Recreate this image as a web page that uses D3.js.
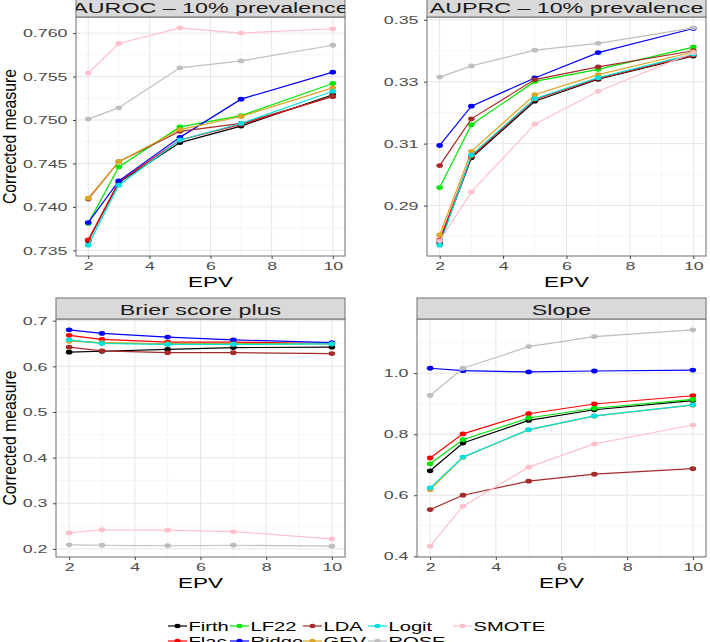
<!DOCTYPE html>
<html><head><meta charset="utf-8">
<script src="https://cdn.jsdelivr.net/npm/d3@7"></script>
<style>
body{margin:0;background:#fff;}
svg{display:block;}
text{font-family:"Liberation Sans",Arial,sans-serif;}
</style>
</head><body>
<svg id="chart" width="710" height="642"></svg>
<script>
// ---------------- DATA ----------------
const epv = [2, 3, 5, 7, 10];
const methods = ["Firth", "Flac", "LF22", "Ridge", "LDA", "GEV", "Logit", "ROSE", "SMOTE"];
const methodColors = ["#000000", "#ff0000", "#00e600", "#0000ff", "#a52a2a", "#daa520", "#00e0e0", "#bebebe", "#ffc0cb"];
const panelTitles = ["AUROC \u2013 10% prevalence", "AUPRC \u2013 10% prevalence", "Brier score plus", "Slope"];

// values per method (same order as `methods`), one entry per EPV
const auroc = [
  [0.7361, 0.7428, 0.7474, 0.7493, 0.7529],
  [0.7362, 0.7429, 0.7477, 0.7495, 0.7527],
  [0.7381, 0.7446, 0.7492, 0.7505, 0.7542],
  [0.7382, 0.7430, 0.7480, 0.7524, 0.7555],
  [0.7409, 0.7452, 0.7487, 0.7496, 0.7527],
  [0.7410, 0.7452, 0.7489, 0.7504, 0.7537],
  [0.7356, 0.7425, 0.7477, 0.7496, 0.7533],
  [0.7501, 0.7514, 0.7560, 0.7568, 0.7586],
  [0.7554, 0.7588, 0.7606, 0.7600, 0.7605]
];
const auprc = [
  [0.2780, 0.3054, 0.3237, 0.3308, 0.3383],
  [0.2789, 0.3059, 0.3243, 0.3311, 0.3386],
  [0.2958, 0.3161, 0.3301, 0.3340, 0.3412],
  [0.3094, 0.3221, 0.3312, 0.3394, 0.3472],
  [0.3029, 0.3180, 0.3307, 0.3348, 0.3400],
  [0.2805, 0.3075, 0.3258, 0.3323, 0.3396],
  [0.2772, 0.3063, 0.3245, 0.3313, 0.3389],
  [0.3315, 0.3351, 0.3402, 0.3424, 0.3474],
  [0.2786, 0.2944, 0.3163, 0.3269, 0.3394]
];
const brier = [
  [0.631, 0.633, 0.637, 0.641, 0.642],
  [0.668, 0.659, 0.653, 0.653, 0.650],
  [0.657, 0.651, 0.649, 0.650, 0.650],
  [0.680, 0.672, 0.664, 0.658, 0.652],
  [0.642, 0.634, 0.630, 0.630, 0.628],
  [0.655, 0.652, 0.649, 0.649, 0.649],
  [0.658, 0.650, 0.648, 0.648, 0.649],
  [0.209, 0.208, 0.207, 0.208, 0.206],
  [0.235, 0.242, 0.241, 0.238, 0.222]
];
const slope = [
  [0.680, 0.771, 0.845, 0.880, 0.910],
  [0.722, 0.801, 0.867, 0.899, 0.926],
  [0.703, 0.782, 0.853, 0.885, 0.914],
  [1.016, 1.008, 1.004, 1.007, 1.010],
  [0.553, 0.600, 0.646, 0.669, 0.687],
  [0.618, 0.724, 0.814, 0.859, 0.895],
  [0.624, 0.725, 0.815, 0.860, 0.896],
  [0.927, 1.016, 1.087, 1.120, 1.142],
  [0.433, 0.564, 0.692, 0.768, 0.830]
];

const xTickLabels = ["2", "4", "6", "8", "10"];
const xMinorTicks = [3, 5, 7, 9];
const aurocTickLabels = ["0.735", "0.740", "0.745", "0.750", "0.755", "0.760"];
const auprcTickLabels = ["0.29", "0.31", "0.33", "0.35"];
const brierTickLabels = ["0.2", "0.3", "0.4", "0.5", "0.6", "0.7"];
const slopeTickLabels = ["0.4", "0.6", "0.8", "1.0"];
const aurocMinor = [0.7375, 0.7425, 0.7475, 0.7525, 0.7575];
const auprcMinor = [0.28, 0.30, 0.32, 0.34];
const brierMinor = [0.25, 0.35, 0.45, 0.55, 0.65];
const slopeMinor = [0.5, 0.7, 0.9, 1.1];
const xAxisTitle = "EPV";
const yAxisTitle = "Corrected measure";

// ---------------- LAYOUT ----------------
const SX = 1.55; // horizontal stretch of the reference's text
const panels = [
  {values: auroc, ticks: aurocTickLabels, minor: aurocMinor, x0: 76,  x1: 345, y0: 17,  y1: 256, stripTop: -4,  yTitle: true},
  {values: auprc, ticks: auprcTickLabels, minor: auprcMinor, x0: 427, x1: 706, y0: 17,  y1: 256, stripTop: -4,  yTitle: false},
  {values: brier, ticks: brierTickLabels, minor: brierMinor, x0: 56,  x1: 345, y0: 319, y1: 557, stripTop: 298, yTitle: true},
  {values: slope, ticks: slopeTickLabels, minor: slopeMinor, x0: 417, x1: 706, y0: 319, y1: 557, stripTop: 298, yTitle: false}
];

const svg = d3.select("#chart");
const defs = svg.append("defs");

function stretchedText(g, x, y, str, opts) {
  const grp = g.append("g").attr("transform", `translate(${x},${y}) scale(${opts.sx || SX},1)` + (opts.rotate ? ` rotate(${opts.rotate})` : ""));
  return grp.append("text")
    .attr("text-anchor", opts.anchor || "middle")
    .attr("font-size", opts.size)
    .attr("fill", opts.fill || "#000")
    .text(str);
}

panels.forEach((p, pi) => {
  const g = svg.append("g");
  const x = d3.scaleLinear().domain([1.6, 10.4]).range([p.x0, p.x1]);
  const all = p.values.flat();
  const [lo, hi] = d3.extent(all);
  const pad = (hi - lo) * 0.05;
  const y = d3.scaleLinear().domain([lo - pad, hi + pad]).range([p.y1, p.y0]);

  g.append("rect").attr("x", p.x0).attr("y", p.y0).attr("width", p.x1 - p.x0).attr("height", p.y1 - p.y0).attr("fill", "#fff");

  const clipY = (v) => y(v) > p.y0 && y(v) < p.y1;
  g.selectAll(".ymin").data(p.minor.filter(clipY)).enter().append("line")
    .attr("x1", p.x0).attr("x2", p.x1).attr("y1", d => y(d)).attr("y2", d => y(d))
    .attr("stroke", "#f2f2f2").attr("stroke-width", 0.7);
  g.selectAll(".xmin").data(xMinorTicks).enter().append("line")
    .attr("y1", p.y0).attr("y2", p.y1).attr("x1", d => x(d)).attr("x2", d => x(d))
    .attr("stroke", "#f2f2f2").attr("stroke-width", 0.7);
  g.selectAll(".ymaj").data(p.ticks.map(Number)).enter().append("line")
    .attr("x1", p.x0).attr("x2", p.x1).attr("y1", d => y(d)).attr("y2", d => y(d))
    .attr("stroke", "#e6e6e6").attr("stroke-width", 1);
  g.selectAll(".xmaj").data(xTickLabels.map(Number)).enter().append("line")
    .attr("y1", p.y0).attr("y2", p.y1).attr("x1", d => x(d)).attr("x2", d => x(d))
    .attr("stroke", "#e6e6e6").attr("stroke-width", 1);

  const line = d3.line().x((d, i) => x(epv[i])).y(d => y(d));
  p.values.forEach((vals, mi) => {
    g.append("path").datum(vals).attr("d", line)
      .attr("fill", "none").attr("stroke", methodColors[mi]).attr("stroke-width", 1.2);
    g.selectAll(null).data(vals).enter().append("ellipse")
      .attr("cx", (d, i) => x(epv[i])).attr("cy", d => y(d))
      .attr("rx", 3.3).attr("ry", 2.4).attr("fill", methodColors[mi]);
  });

  g.append("rect").attr("x", p.x0).attr("y", p.y0).attr("width", p.x1 - p.x0).attr("height", p.y1 - p.y0)
    .attr("fill", "none").attr("stroke", "#6e6e6e").attr("stroke-width", 1);

  const cid = "clip" + pi;
  defs.append("clipPath").attr("id", cid).append("rect")
    .attr("x", p.x0).attr("y", p.stripTop).attr("width", p.x1 - p.x0).attr("height", p.y0 - p.stripTop);
  g.append("rect").attr("x", p.x0).attr("y", p.stripTop).attr("width", p.x1 - p.x0).attr("height", p.y0 - p.stripTop)
    .attr("fill", "#d9d9d9").attr("stroke", "#6e6e6e").attr("stroke-width", 1);
  const sg = g.append("g").attr("clip-path", `url(#${cid})`);
  stretchedText(sg, (p.x0 + p.x1) / 2, p.y0 - 4, panelTitles[pi], {size: 15, fill: "#1a1a1a"});

  const yAxis = d3.axisLeft(y).tickValues(p.ticks.map(Number)).tickFormat((d, i) => p.ticks[i]).tickSize(3).tickPadding(5.5);
  const ya = g.append("g").attr("transform", `translate(${p.x0},0)`).call(yAxis);
  ya.select(".domain").remove();
  ya.selectAll(".tick line").attr("stroke", "#444");
  ya.selectAll(".tick text").attr("font-size", 11.5).attr("fill", "#4d4d4d")
    .attr("font-family", '"Liberation Sans",Arial,sans-serif')
    .attr("x", -8.5 / SX).attr("transform", `scale(${SX},1)`);

  const xAxis = d3.axisBottom(x).tickValues(xTickLabels.map(Number)).tickFormat((d, i) => xTickLabels[i]).tickSize(3).tickPadding(2.5);
  const xa = g.append("g").attr("transform", `translate(0,${p.y1})`).call(xAxis);
  xa.select(".domain").remove();
  xa.selectAll(".tick line").attr("stroke", "#444");
  xa.selectAll(".tick text").attr("font-size", 11.5).attr("fill", "#4d4d4d")
    .attr("font-family", '"Liberation Sans",Arial,sans-serif')
    .attr("transform", `scale(${SX},1)`);

  stretchedText(g, (p.x0 + p.x1) / 2, p.y1 + 30.5, xAxisTitle, {size: 14.5});
  if (p.yTitle) {
    stretchedText(g, 15.5, (p.y0 + p.y1) / 2, yAxisTitle, {size: 15.8, sx: 1.15, rotate: -90});
  }
});

// ---------------- LEGEND ----------------
const legendColX = [168, 230, 303, 368, 453];
const legendRowY = [626, 641];
const lg = svg.append("g");
methods.forEach((m, i) => {
  const col = Math.floor(i / 2), row = i % 2;
  const kx = legendColX[col], ky = legendRowY[row];
  lg.append("line").attr("x1", kx).attr("x2", kx + 19).attr("y1", ky).attr("y2", ky)
    .attr("stroke", methodColors[i]).attr("stroke-width", 1.2);
  lg.append("ellipse").attr("cx", kx + 9.5).attr("cy", ky).attr("rx", 3).attr("ry", 2.2).attr("fill", methodColors[i]);
  stretchedText(lg, kx + 20.5, ky + 4.6, m, {size: 13, anchor: "start"});
});
</script>
</body></html>
